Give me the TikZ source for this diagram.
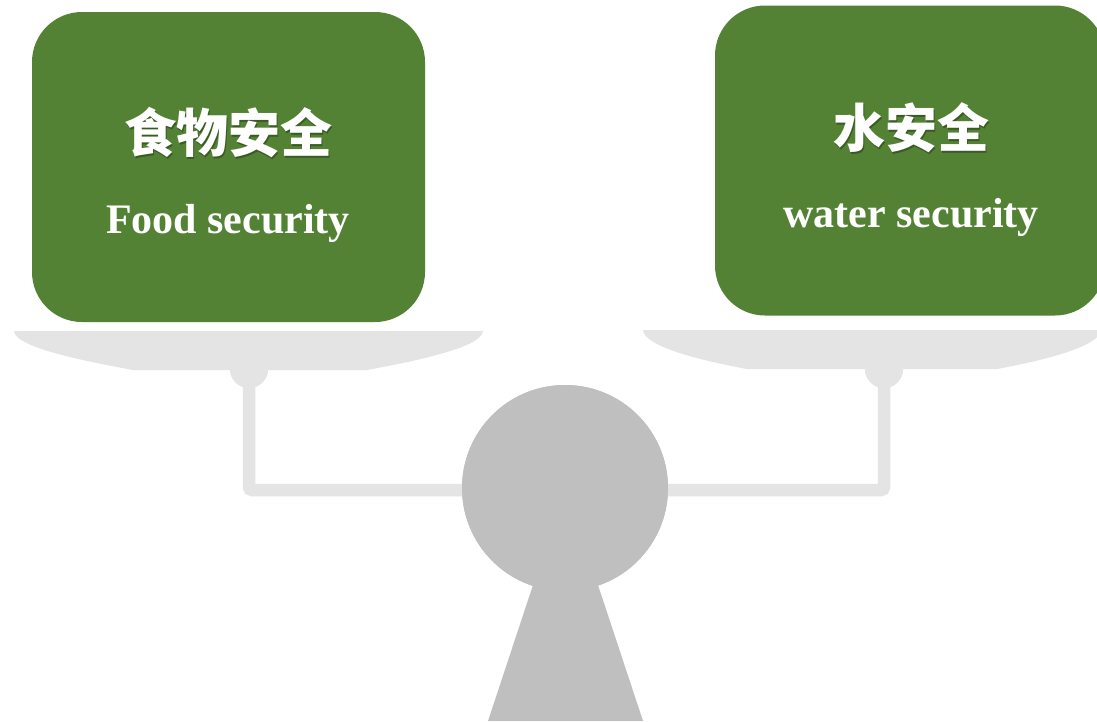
\documentclass[tikz,border=0pt]{standalone}
\usepackage{fontspec}
\setmainfont{Liberation Serif}
\newfontfamily\cjk{Noto Sans CJK SC}
\definecolor{boxgreen}{HTML}{548235}
\definecolor{plategray}{HTML}{E4E4E4}
\definecolor{fulcgray}{HTML}{BFBFBF}
\begin{document}
\begin{tikzpicture}[x=1pt,y=-1pt,
  greenbox/.style={fill=boxgreen,draw=none,rounded corners=50pt,minimum width=#1,minimum height=310pt,inner sep=0pt},
  cntext/.style={text=white,font=\cjk\bfseries\fontsize{52}{52}\selectfont,inner sep=0pt},
  cnshadow/.style={text=black,opacity=0.3,font=\cjk\bfseries\fontsize{52}{52}\selectfont,inner sep=0pt},
  entext/.style={text=white,font=\bfseries\fontsize{42}{42}\selectfont,inner sep=0pt,anchor=base},
  knob/.style={circle,fill=plategray,minimum size=38pt,inner sep=0pt},
  beam/.style={draw=plategray,line width=12.5pt},
  plate/.style={fill=plategray,draw=none},
  fulc/.style={fill=fulcgray,draw=none}]
\useasboundingbox (0,0) rectangle (1097,721);
\clip (0,0) rectangle (1097,721);
\fill[white] (0,0) rectangle (1097,721);

% boxes
\node[greenbox=393pt] (boxL) at (228.5,167) {};
\node[greenbox=390pt] (boxR) at (910,160.5) {};

% texts
\node[cnshadow] at (229.8,134.5) {食物安全};
\node[cntext] (cnL) at (228,133) {食物安全};
\node[entext] (enL) at (228,233) {Food security};
\node[cnshadow] at (912.3,129.5) {水安全};
\node[cntext] (cnR) at (911,128) {水安全};
\node[entext] (enR) at (911,227) {water security};

% knobs and fulcrum positions
\node[knob] (knobL) at (249,369) {};
\node[knob] (knobR) at (884,369) {};
\coordinate (pivot) at (565,490);
\node[circle,fulc,minimum size=206pt,inner sep=0pt] (fulcrum) at (565,488) {};

% beams
\draw[beam,rounded corners=3pt] (knobL.center) |- (pivot);
\draw[beam,rounded corners=3pt] (knobR.center) |- (pivot);

% plates
\fill[plate] (14,331) -- (483,331)
  .. controls (482,348) and (410,362) .. (367,370)
  -- (133,370)
  .. controls (90,362) and (15,348) .. (14,331) -- cycle;
\fill[plate] (643,330) -- (1101,330)
  .. controls (1100,347) and (1040,361) .. (997,369)
  -- (747,369)
  .. controls (704,361) and (644,347) .. (643,330) -- cycle;
\node[knob] at (knobL) {};
\node[knob] at (knobR) {};

% fulcrum on top of beams
\fill[fulc] (533,585) -- (598,585) -- (643,721) -- (488,721) -- cycle;
\node[circle,fulc,minimum size=206pt,inner sep=0pt] at (fulcrum) {};
\end{tikzpicture}
\end{document}
